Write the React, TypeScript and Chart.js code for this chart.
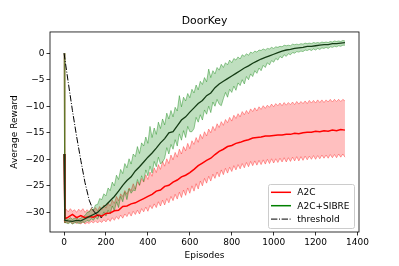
import React, { useEffect, useRef } from "react";
import { Chart, registerables } from "chart.js";

Chart.register(...registerables);

const EPISODES = [
  0, 4, 20, 40, 60, 80, 100, 120, 140, 160, 180, 200, 220, 240, 260, 280, 300,
  320, 340, 360, 380, 400, 420, 440, 460, 480, 500, 520, 540, 560, 580, 600,
  620, 640, 660, 680, 700, 720, 740, 760, 780, 800, 820, 840, 860, 880, 900,
  920, 940, 960, 980, 1000, 1020, 1040, 1060, 1080, 1100, 1120, 1140, 1160,
  1180, 1200, 1220, 1240, 1260, 1280, 1300, 1320, 1340,
];

const BAND_EPISODES = [
  0, 4, 10, 20, 30, 40, 50, 60, 70, 80, 90, 100, 110, 120, 130, 140, 150, 160,
  170, 180, 190, 200, 210, 220, 230, 240, 250, 260, 270, 280, 290, 300, 310,
  320, 330, 340, 350, 360, 370, 380, 390, 400, 410, 420, 430, 440, 450, 460,
  470, 480, 490, 500, 510, 520, 530, 540, 550, 560, 570, 580, 590, 600, 610,
  620, 630, 640, 650, 660, 670, 680, 690, 700, 710, 720, 730, 740, 750, 760,
  770, 780, 790, 800, 810, 820, 830, 840, 850, 860, 870, 880, 890, 900, 910,
  920, 930, 940, 950, 960, 970, 980, 990, 1000, 1010, 1020, 1030, 1040, 1050,
  1060, 1070, 1080, 1090, 1100, 1110, 1120, 1130, 1140, 1150, 1160, 1170, 1180,
  1190, 1200, 1210, 1220, 1230, 1240, 1250, 1260, 1270, 1280, 1290, 1300, 1310,
  1320, 1330, 1340,
];

const A2C_MEAN = [
  -19, -31.2, -30.9, -30.4, -31.0, -30.6, -31.0, -30.8, -30.9, -30.5, -30.7,
  -30.2, -30.1, -29.7, -29.6, -28.9, -28.8, -28.4, -28.2, -27.8, -27.4, -27.0,
  -26.6, -26.0, -25.8, -25.1, -24.9, -24.3, -23.9, -23.3, -23.0, -22.5, -21.9,
  -21.2, -20.7, -20.2, -19.8, -19.1, -18.5, -18.1, -17.6, -17.4, -17.0, -16.8,
  -16.5, -16.3, -16.0, -15.9, -15.8, -15.6, -15.6, -15.5, -15.4, -15.4, -15.3,
  -15.3, -15.1, -15.2, -15.0, -14.9, -14.9, -14.7, -14.8, -14.6, -14.7, -14.5,
  -14.6, -14.4, -14.5,
];
const A2C_UPPER = [
  0, -29.6, -29.4, -29.9, -29.3, -29.8, -29.5, -30.0, -29.4, -29.8, -29.3,
  -30.0, -29.5, -29.9, -29.2, -29.8, -29.1, -29.7, -28.9, -29.5, -28.6, -29.2,
  -28.2, -28.8, -27.7, -28.3, -27.0, -27.8, -26.5, -27.0, -25.9, -26.6, -25.4,
  -25.9, -24.6, -25.6, -24.2, -24.9, -23.6, -24.3, -22.9, -23.8, -22.4, -23.2,
  -21.6, -22.5, -21.0, -21.9, -20.4, -21.3, -19.9, -20.8, -19.2, -20.1, -18.7,
  -19.6, -18.1, -19.0, -17.6, -18.4, -17.0, -18.0, -16.5, -17.2, -15.9, -16.8,
  -15.3, -16.1, -14.8, -15.6, -14.3, -15.0, -13.8, -14.6, -13.3, -14.0, -12.9,
  -13.6, -12.5, -13.1, -12.1, -12.8, -11.7, -12.3, -11.4, -12.0, -11.0, -11.6,
  -10.8, -11.4, -10.5, -11.0, -10.3, -10.9, -10.1, -10.6, -9.9, -10.4, -9.8,
  -10.2, -9.6, -10.1, -9.5, -9.9, -9.4, -9.9, -9.3, -9.8, -9.3, -9.7, -9.2,
  -9.7, -9.1, -9.6, -9.1, -9.5, -9.0, -9.5, -8.9, -9.4, -8.9, -9.4, -8.8, -9.3,
  -8.8, -9.3, -8.8, -9.2, -8.7, -9.2, -8.7, -9.1, -8.7, -9.1, -8.7, -9.0,
];
const A2C_LOWER = [
  -31.5, -32.0, -31.8, -32.1, -31.7, -32.2, -31.8, -32.1, -31.9, -32.2, -31.8,
  -32.2, -31.9, -32.1, -31.7, -32.0, -31.6, -32.0, -31.6, -31.9, -31.4, -31.8,
  -31.2, -31.7, -31.0, -31.5, -30.8, -31.3, -30.5, -31.1, -30.3, -30.8, -30.0,
  -30.7, -29.8, -30.4, -29.6, -30.3, -29.3, -29.9, -29.0, -29.8, -28.7, -29.3,
  -28.4, -29.1, -28.0, -28.8, -27.7, -28.6, -27.4, -28.2, -27.0, -27.8, -26.6,
  -27.5, -26.2, -27.2, -25.8, -26.8, -25.4, -26.4, -25.0, -26.0, -24.6, -25.6,
  -24.1, -25.0, -23.6, -24.5, -23.2, -24.1, -22.8, -23.6, -22.4, -23.3, -22.0,
  -22.9, -21.7, -22.6, -21.5, -22.3, -21.2, -22.0, -21.0, -21.8, -20.8, -21.6,
  -20.6, -21.4, -20.4, -21.2, -20.3, -21.1, -20.2, -21.0, -20.1, -20.9, -20.0,
  -20.8, -19.9, -20.7, -19.9, -20.6, -19.8, -20.5, -19.7, -20.5, -19.7, -20.4,
  -19.6, -20.3, -19.5, -20.3, -19.5, -20.2, -19.4, -20.1, -19.4, -20.0, -19.3,
  -20.0, -19.3, -19.9, -19.2, -19.8, -19.2, -19.8, -19.1, -19.7, -19.1, -19.7,
  -19.0, -19.6, -19.0, -19.6,
];

const SIBRE_MEAN = [
  -19, -31.5, -31.6, -31.7, -31.5, -31.6, -31.2, -30.8, -30.4, -30.0, -29.2,
  -28.6, -27.8, -27.0, -26.0, -24.9, -24.0, -23.3, -22.2, -21.4, -20.5, -19.6,
  -18.8, -17.9, -16.9, -16.1, -15.0, -14.8, -13.7, -12.6, -12.0, -11.1, -10.3,
  -9.5, -8.9, -8.0, -7.5, -6.5, -5.8, -5.3, -4.8, -4.3, -3.8, -3.3, -2.8, -2.4,
  -1.9, -1.5, -1.1, -0.8, -0.5, -0.2, 0.1, 0.4, 0.6, 0.7, 0.9, 1.0, 1.1, 1.3,
  1.3, 1.4, 1.5, 1.6, 1.6, 1.8, 1.8, 1.9, 2.0,
];
const SIBRE_UPPER = [
  0, -31.1, -31.2, -31.3, -31.0, -31.3, -31.1, -31.0, -31.3, -31.1, -30.8,
  -30.6, -30.0, -29.9, -29.3, -29.5, -28.6, -28.5, -27.4, -27.6, -26.5, -26.9,
  -25.4, -25.9, -24.3, -25.0, -23.0, -23.8, -21.9, -22.7, -20.8, -21.6, -19.9,
  -20.9, -19.0, -19.5, -17.6, -18.9, -16.9, -17.5, -15.8, -17.0, -13.8, -15.9,
  -14.1, -15.3, -13.0, -14.2, -12.4, -13.5, -11.3, -12.4, -10.8, -12.0, -10.2,
  -10.9, -8.0, -10.1, -8.3, -9.0, -7.6, -8.4, -6.8, -7.5, -6.0, -6.9, -5.3,
  -5.9, -4.6, -5.4, -3.0, -4.6, -3.3, -3.9, -2.7, -3.2, -2.1, -2.7, -1.8, -2.2,
  -1.3, -1.8, -1.0, -1.3, -0.7, -1.1, -0.3, -0.6, -0.1, -0.4, 0.2, 0.0, 0.4,
  0.2, 0.6, 0.5, 0.8, 0.6, 0.9, 0.8, 1.1, 0.9, 1.2, 1.1, 1.3, 1.2, 1.5, 1.4,
  1.5, 1.4, 1.7, 1.6, 1.7, 1.6, 1.8, 1.7, 1.9, 1.8, 1.9, 1.8, 2.0, 1.9, 2.0,
  1.9, 2.1, 2.0, 2.1, 2.0, 2.2, 2.1, 2.3, 2.2, 2.3, 2.2, 2.4, 2.3,
];
const SIBRE_LOWER = [
  -31.8, -31.9, -32.0, -32.1, -31.9, -32.2, -32.0, -31.9, -32.1, -32.0, -31.8,
  -31.9, -31.5, -31.7, -31.2, -31.5, -30.9, -31.3, -30.4, -31.0, -29.9, -30.7,
  -29.6, -30.3, -28.8, -29.7, -28.0, -29.1, -27.0, -28.0, -26.2, -27.6, -25.6,
  -26.4, -25.8, -25.9, -23.8, -24.9, -23.1, -24.2, -22.0, -23.1, -21.3, -22.6,
  -20.4, -21.4, -19.6, -20.9, -20.5, -19.8, -17.8, -19.0, -17.2, -18.1, -16.3,
  -17.5, -15.2, -16.4, -14.6, -15.9, -13.8, -14.8, -14.8, -14.2, -12.1, -13.0,
  -11.6, -12.6, -10.7, -11.5, -10.0, -11.2, -9.2, -10.0, -8.7, -9.6, -9.9,
  -8.6, -7.4, -8.3, -6.8, -7.4, -6.2, -7.0, -5.6, -6.1, -5.0, -5.8, -4.4, -5.0,
  -3.9, -4.4, -3.3, -3.8, -2.8, -3.3, -2.3, -2.7, -1.8, -2.2, -1.4, -1.7, -1.0,
  -1.3, -0.6, -0.9, -0.3, -0.6, -0.1, -0.3, 0.1, 0.0, 0.3, 0.2, 0.4, 0.3, 0.6,
  0.5, 0.7, 0.5, 0.8, 0.6, 0.9, 0.7, 1.0, 0.9, 1.1, 0.9, 1.2, 1.1, 1.3, 1.2,
  1.4, 1.3, 1.5, 1.5,
];

const THRESHOLD_EPISODES = [0, 20, 40, 60, 80, 100, 120, 140, 160, 180];
const THRESHOLD = [0, -5.5, -10.8, -15.7, -20.2, -24.4, -27.7, -29.7, -30.6, -31.0];

const X_TICKS = [0, 200, 400, 600, 800, 1000, 1200, 1400];
const Y_TICKS = [-30, -25, -20, -15, -10, -5, 0];
const LEGEND_LABELS = ["A2C", "A2C+SIBRE", "threshold"];

const FONT = "'DejaVu Sans', sans-serif";
const RED = "#ff0000";
const GREEN = "#008000";
const GREEN_DARK = "#143c14";

const pts = (xs: number[], ys: number[]) => xs.map((x, i) => ({ x, y: ys[i] }));
const fmt = (v: number) => (v < 0 ? "\u2212" + Math.abs(v) : String(v));

const legendItems = [
  { label: LEGEND_LABELS[0], color: RED, dash: [] as number[] },
  { label: LEGEND_LABELS[1], color: GREEN, dash: [] as number[] },
  { label: LEGEND_LABELS[2], color: "#000000", dash: [6.4, 1.6, 1, 1.6] },
];

const framePlugin = {
  id: "frame",
  afterDatasetsDraw(chart: any) {
    const { ctx, chartArea: a } = chart;
    ctx.save();
    ctx.strokeStyle = "#000";
    ctx.lineWidth = 0.8;
    ctx.strokeRect(a.left, a.top, a.right - a.left, a.bottom - a.top);
    ctx.restore();
  },
};

const legendPlugin = {
  id: "boxLegend",
  afterDraw(chart: any) {
    const { ctx, chartArea: a } = chart;
    const w = 86;
    const h = 44;
    const x0 = a.right - 5 - w;
    const y0 = a.bottom - 4 - h;
    ctx.save();
    ctx.beginPath();
    if (ctx.roundRect) ctx.roundRect(x0 + 0.5, y0 + 0.5, w, h, 2);
    else ctx.rect(x0 + 0.5, y0 + 0.5, w, h);
    ctx.fillStyle = "rgba(255,255,255,0.8)";
    ctx.fill();
    ctx.strokeStyle = "#cccccc";
    ctx.lineWidth = 1;
    ctx.stroke();
    legendItems.forEach((it, i) => {
      const y = y0 + 8.3 + i * 13.4;
      ctx.beginPath();
      ctx.setLineDash(it.dash);
      ctx.strokeStyle = it.color;
      ctx.lineWidth = it.dash.length ? 1 : 1.5;
      ctx.moveTo(x0 + 3, y);
      ctx.lineTo(x0 + 23, y);
      ctx.stroke();
      ctx.setLineDash([]);
      ctx.fillStyle = "#000";
      ctx.font = `9px ${FONT}`;
      ctx.textBaseline = "middle";
      ctx.textAlign = "left";
      ctx.fillText(it.label, x0 + 29.3, y + 0.5);
    });
    ctx.restore();
  },
};

export default function App() {
  const ref = useRef<HTMLCanvasElement>(null);
  useEffect(() => {
    const band = (data: number[], color: string, fill: any, bg: string) => ({
      data: pts(BAND_EPISODES, data),
      borderColor: color,
      borderWidth: 1,
      backgroundColor: bg,
      fill,
      pointRadius: 0,
      tension: 0,
    });
    const chart = new Chart(ref.current as HTMLCanvasElement, {
      type: "line",
      data: {
        datasets: [
          {
            label: "threshold",
            data: pts(THRESHOLD_EPISODES, THRESHOLD),
            borderColor: "#000000",
            borderWidth: 1,
            borderDash: [6.4, 1.6, 1, 1.6],
            pointRadius: 0,
            fill: false,
          },
          {
            label: "A2C+SIBRE",
            data: pts(EPISODES, SIBRE_MEAN),
            borderColor: GREEN_DARK,
            borderWidth: 1.3,
            pointRadius: 0,
            fill: false,
          },
          {
            label: "A2C",
            data: pts(EPISODES, A2C_MEAN),
            borderColor: RED,
            borderWidth: 1.5,
            pointRadius: 0,
            fill: false,
          },
          band(SIBRE_LOWER, "rgba(0,128,0,0.4)", 4, "rgba(0,128,0,0.25)"),
          band(SIBRE_UPPER, "rgba(0,128,0,0.4)", false, "transparent"),
          band(A2C_LOWER, "rgba(255,0,0,0.35)", 6, "rgba(255,0,0,0.25)"),
          band(A2C_UPPER, "rgba(255,0,0,0.35)", false, "transparent"),
        ] as any,
      },
      options: {
        animation: false,
        responsive: false,
        devicePixelRatio: 1,
        events: [],
        layout: { padding: { left: 0, right: 40, top: 0, bottom: 0 } },
        plugins: {
          legend: { display: false },
          tooltip: { enabled: false },
          title: {
            display: true,
            text: "DoorKey",
            fullSize: false,
            color: "#000",
            font: { family: FONT, size: 10.8, weight: "normal" },
            padding: { top: 15, bottom: 4 },
          },
        },
        scales: {
          x: {
            type: "linear",
            min: -67,
            max: 1407,
            afterBuildTicks: (s: any) => {
              s.ticks = X_TICKS.map((v) => ({ value: v }));
            },
            afterFit: (s: any) => {
              s.height = 34;
            },
            grid: {
              drawOnChartArea: false,
              drawTicks: true,
              tickLength: 3.5,
              tickColor: "#000",
              lineWidth: 0.8,
            },
            border: { display: false },
            ticks: {
              color: "#000",
              font: { family: FONT, size: 9 },
              padding: 2,
              maxRotation: 0,
              callback: (v: any) => fmt(Number(v)),
            },
            title: {
              display: true,
              text: "Episodes",
              color: "#000",
              font: { family: FONT, size: 9 },
              padding: { top: 0, bottom: 5 },
            },
          },
          y: {
            type: "linear",
            min: -33.7,
            max: 4.0,
            afterBuildTicks: (s: any) => {
              s.ticks = Y_TICKS.map((v) => ({ value: v }));
            },
            afterFit: (s: any) => {
              s.width = 50;
            },
            grid: {
              drawOnChartArea: false,
              drawTicks: true,
              tickLength: 3.5,
              tickColor: "#000",
              lineWidth: 0.8,
            },
            border: { display: false },
            ticks: {
              color: "#000",
              font: { family: FONT, size: 9 },
              padding: 2,
              callback: (v: any) => fmt(Number(v)),
            },
            title: {
              display: true,
              text: "Average Reward",
              color: "#000",
              font: { family: FONT, size: 9 },
              padding: { top: 9.6, bottom: 0 },
            },
          },
        },
      },
      plugins: [framePlugin, legendPlugin],
    } as any);
    return () => chart.destroy();
  }, []);

  return (
    <div
      style={{
        position: "fixed",
        left: 0,
        top: 0,
        width: 399,
        height: 266,
        background: "#fff",
      }}
    >
      <canvas ref={ref} width={399} height={266} style={{ display: "block" }} />
    </div>
  );
}
